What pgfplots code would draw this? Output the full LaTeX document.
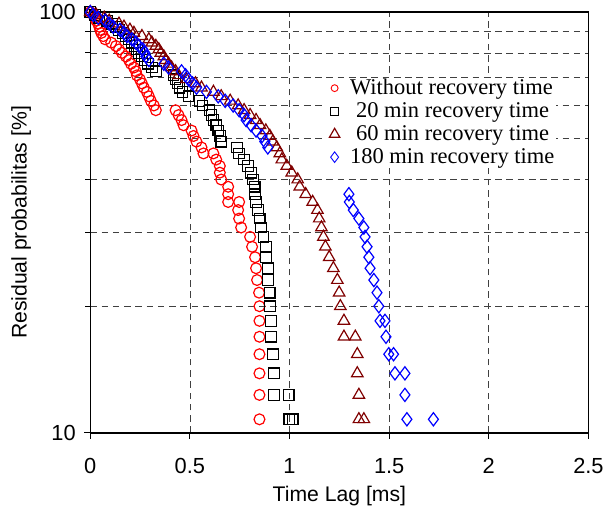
\documentclass[border=0pt]{standalone}
\usepackage{pgfplots}
\pgfplotsset{compat=1.18}
\usepackage{pgfplotstable}
\usepackage{fontspec}
\setmainfont{Liberation Sans}
\newfontfamily\legfont{Liberation Serif}
\definecolor{darkred}{RGB}{128,0,0}

% without recovery time
\pgfplotstableread{
x y
0.000 100.00
0.015 98.46
0.025 96.92
0.030 95.38
0.040 93.85
0.045 92.31
0.050 90.77
0.055 89.23
0.065 87.69
0.075 86.15
0.105 84.62
0.129 83.08
0.144 81.54
0.159 80.00
0.179 78.46
0.194 76.92
0.204 75.38
0.219 73.85
0.229 72.31
0.234 70.77
0.249 69.23
0.259 67.69
0.269 66.15
0.284 64.62
0.294 63.08
0.304 61.54
0.319 60.00
0.329 58.46
0.428 58.46
0.443 56.92
0.458 55.38
0.468 53.85
0.508 52.31
0.518 50.77
0.533 49.23
0.558 47.69
0.568 46.15
0.618 46.15
0.632 44.62
0.650 43.08
0.650 41.54
0.657 40.00
0.692 38.46
0.692 36.92
0.692 35.38
0.747 35.38
0.742 33.85
0.747 32.31
0.757 30.77
0.802 29.23
0.812 27.69
0.827 26.15
0.832 24.62
0.837 23.08
0.847 21.54
0.849 20.00
0.849 18.46
0.849 16.92
0.849 15.38
0.849 13.85
0.849 12.31
0.849 10.77
}\tabnone

% 20 min
\pgfplotstableread{
x y
0.000 100.00
0.025 98.46
0.045 96.92
0.085 95.38
0.110 93.85
0.129 92.31
0.144 90.77
0.164 89.23
0.179 87.69
0.194 86.15
0.209 84.62
0.224 83.08
0.234 81.54
0.244 80.00
0.259 78.46
0.274 76.92
0.289 75.38
0.309 73.85
0.329 72.31
0.418 70.77
0.428 69.23
0.438 67.69
0.448 66.15
0.463 64.62
0.493 63.08
0.548 61.54
0.563 60.00
0.598 58.46
0.608 56.92
0.618 55.38
0.632 53.85
0.642 52.31
0.652 50.77
0.657 49.23
0.737 47.69
0.747 46.15
0.772 44.62
0.792 43.08
0.807 41.54
0.817 40.00
0.825 38.46
0.827 36.92
0.832 35.38
0.842 33.85
0.850 32.31
0.857 30.77
0.869 29.23
0.881 27.69
0.881 26.15
0.891 24.62
0.891 23.08
0.900 21.54
0.901 20.00
0.906 18.46
0.906 16.92
0.916 15.38
0.921 13.85
0.921 12.31
0.996 12.31
0.999 10.77
1.016 10.77
}\tabtwenty

% 60 min
\pgfplotstableread{
x y
0.000 100.00
0.030 98.46
0.070 96.92
0.095 95.38
0.144 93.85
0.169 92.31
0.199 90.77
0.219 89.23
0.259 87.69
0.294 86.15
0.309 84.62
0.329 83.08
0.344 81.54
0.354 80.00
0.369 78.46
0.378 76.92
0.393 75.38
0.408 73.85
0.428 72.31
0.443 70.77
0.483 69.23
0.528 67.69
0.558 66.15
0.618 64.62
0.657 63.08
0.702 61.54
0.742 60.00
0.772 58.46
0.802 56.92
0.832 55.38
0.852 53.85
0.881 52.31
0.901 50.77
0.916 49.23
0.936 47.69
0.951 46.15
0.961 44.62
0.986 43.08
1.011 41.54
1.041 40.00
1.051 38.46
1.081 36.92
1.116 35.38
1.140 33.85
1.149 32.31
1.160 30.77
1.170 29.23
1.180 27.69
1.199 26.15
1.220 24.62
1.240 23.08
1.249 21.54
1.255 20.00
1.273 18.46
1.273 16.92
1.330 16.92
1.340 15.38
1.340 13.85
1.348 12.31
1.348 10.77
1.373 10.77
}\tabsixty

% 180 min
\pgfplotstableread{
x y
0.000 100.00
0.015 98.46
0.040 96.92
0.075 95.38
0.095 93.85
0.115 92.31
0.149 90.77
0.169 89.23
0.184 87.69
0.209 86.15
0.229 84.62
0.244 83.08
0.264 81.54
0.274 80.00
0.279 78.46
0.294 76.92
0.369 75.38
0.393 73.85
0.458 72.31
0.478 70.77
0.493 69.23
0.513 67.69
0.533 66.15
0.583 64.62
0.642 63.08
0.677 61.54
0.717 60.00
0.747 58.46
0.772 56.92
0.782 55.38
0.807 53.85
0.832 52.31
0.862 50.77
0.876 49.23
0.891 47.69
1.298 36.92
1.300 35.38
1.320 33.85
1.348 32.31
1.373 30.77
1.379 29.23
1.389 27.69
1.398 26.15
1.404 24.62
1.423 23.08
1.439 21.54
1.448 20.00
1.454 18.46
1.479 18.46
1.484 16.92
1.498 15.38
1.522 15.38
1.529 13.85
1.579 13.85
1.579 12.31
1.589 10.77
1.722 10.77
}\tabeighty

\begin{document}
\begin{tikzpicture}
\path (-68.25pt,-57.75pt) rectangle (387.75pt,327pt);
\begin{axis}[
  at={(0,0)}, anchor=south west,
  width=376.5pt, height=318pt, scale only axis,
  xmin=0, xmax=2.5,
  ymode=log, ymin=10, ymax=100,
  xtick={0,0.5,1,1.5,2,2.5},
  ytick={10,100},
  minor ytick={20,30,...,90},
  log ticks with fixed point,
  xmajorgrids, yminorgrids,
  grid style={black!75, line width=0.6pt, dash pattern=on 5pt off 3.5pt},
  minor grid style={black!75, line width=0.6pt, dash pattern=on 5pt off 3.5pt},
  tick align=outside, xtick pos=left, ytick pos=left,
  major tick length=4.5pt, minor tick length=4pt,
  tick style={black, line width=0.7pt},
  axis line style={black, line width=1pt},
  /pgf/number format/assume math mode=true,
  ticklabel style={font=\fontsize{16.5}{19}\selectfont},
  xticklabel style={yshift=-11pt},
  yticklabel style={anchor=east, xshift=-3pt},
  label style={font=\fontsize{16}{19}\selectfont},
  xlabel={Time Lag [ms]},
  ylabel={Residual probabilitas [\%]},
  xlabel style={at={(axis description cs:0.5,-0.151)}, anchor=center},
  ylabel style={at={(axis description cs:-0.139,0.5)}, anchor=center},
  legend style={at={(rel axis cs:0.4735,0.844)}, anchor=north west,
    draw=none, fill=white, row sep=2.5pt, inner sep=0pt,
    nodes={inner sep=1pt},
    font=\legfont\fontsize{17}{20}\selectfont},
  legend cell align=left,
  legend image code/.code={\path (0pt,0pt) (16.5pt,0pt); \draw[#1] plot coordinates {(6pt,0pt)};},
]
\addlegendimage{only marks, mark=o, red, mark size=2.6pt, mark options={line width=0.7pt}}
\addlegendentry{Without recovery time}
\addlegendimage{only marks, mark=square, black, mark size=3pt, mark options={line width=0.7pt}}
\addlegendentry{\hspace{4.5pt}20 min recovery time}
\addlegendimage{only marks, mark=triangle, darkred, mark size=4.5pt, mark options={line width=0.9pt}}
\addlegendentry{\hspace{4.5pt}60 min recovery time}
\addlegendimage{only marks, mark=diamond, blue, mark size=4pt, mark options={line width=0.7pt}}
\addlegendentry{180 min recovery time}

\addplot[forget plot, only marks, mark=o, red, mark size=4.1pt, mark options={line width=0.9pt}] table {\tabnone};
\addplot[forget plot, only marks, mark=square, black, mark size=4pt, mark options={line width=0.9pt}] table {\tabtwenty};
\addplot[forget plot, only marks, mark=triangle, darkred, mark size=5pt, mark options={line width=0.9pt}] table {\tabsixty};
\addplot[forget plot, only marks, mark=diamond, blue, mark size=5pt, mark options={line width=0.9pt}] table {\tabeighty};
\end{axis}
\end{tikzpicture}
\end{document}
